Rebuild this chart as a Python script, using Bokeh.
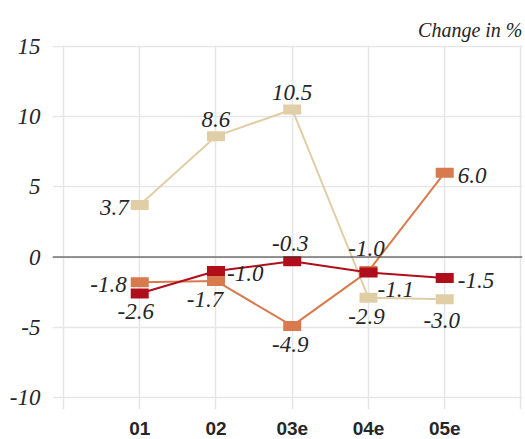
from bokeh.plotting import figure
from bokeh.models import FixedTicker, Span, ColumnDataSource
from bokeh.core.properties import value
from bokeh.embed import file_html
from bokeh.resources import INLINE

# Data
categories = ["01", "02", "03e", "04e", "05e"]
series_beige = [3.7, 8.6, 10.5, -2.9, -3.0]
series_orange = [-1.8, -1.7, -4.9, -1.0, 6.0]
series_red = [-2.6, -1.0, -0.3, -1.1, -1.5]
y_ticks = [-10, -5, 0, 5, 10, 15]
unit_label = "Change in %"

# Styles
BEIGE = "#E0CEA6"
ORANGE = "#D77B4F"
RED = "#B00E1A"
TEXT = "#262626"
SERIF = "Liberation Serif"
SANS = "Liberation Sans"

# Label placement per point: (x offset, baseline offset, alignment)
place_beige = [(-11, 7, "right"), (0, -12, "center"), (0, -12, "center"),
               (-2, 24, "center"), (-3, 26, "center")]
place_orange = [(-13, 7, "right"), (-11, 24, "center"), (-2, 24, "center"),
                (-2, -18, "center"), (13, 8, "left")]
place_red = [(-4, 23, "center"), (11, 7, "left"), (-2, -13, "center"),
             (9, 22, "left"), (13, 7, "left")]
BASELINE_SHIFT = -5

xs = list(range(1, len(categories) + 1))

p = figure(width=525, height=439, output_backend="svg", toolbar_location=None,
           x_range=(-0.144, 6.02), y_range=(-10.85, 15.05),
           min_border_left=52, min_border_right=3, min_border_top=45,
           min_border_bottom=30)
p.outline_line_color = None
p.background_fill_color = "white"

# Unit caption, right aligned above the plot
p.title.text = unit_label
p.title.align = "right"
p.title.text_font = SERIF
p.title.text_font_style = "italic"
p.title.text_font_size = "20px"
p.title.text_color = TEXT

# Grid
p.xgrid.ticker = FixedTicker(ticks=list(range(0, len(categories) + 2)))
p.ygrid.ticker = FixedTicker(ticks=y_ticks)
for g in (p.xgrid, p.ygrid):
    g.grid_line_color = "#E6E6E6"
    g.grid_line_width = 1.6

# Axes
p.xaxis.ticker = FixedTicker(ticks=xs)
p.xaxis.major_label_overrides = {x: c for x, c in zip(xs, categories)}
p.yaxis.ticker = FixedTicker(ticks=y_ticks)
p.yaxis.major_label_overrides = {t: str(t) for t in y_ticks}
for ax in (p.xaxis, p.yaxis):
    ax.axis_line_color = None
    ax.major_tick_line_color = None
    ax.minor_tick_line_color = None
    ax.major_tick_out = 0
    ax.major_tick_in = 0
    ax.minor_tick_out = 0
    ax.minor_tick_in = 0
    ax.major_label_text_color = TEXT
p.xaxis.major_label_text_font = SANS
p.xaxis.major_label_text_font_style = "bold"
p.xaxis.major_label_text_font_size = "19px"
p.xaxis.major_label_standoff = 12
p.yaxis.major_label_text_font = SERIF
p.yaxis.major_label_text_font_style = "italic"
p.yaxis.major_label_text_font_size = "23px"
p.yaxis.major_label_standoff = 12

# Zero line
p.add_layout(Span(location=0, dimension="width", line_color="#333333",
                  line_width=1.2))


def draw_series(values, color, placement):
    src = ColumnDataSource(dict(
        x=xs, y=values,
        label=[f"{v:.1f}" for v in values],
        dx=[pl[0] for pl in placement],
        dy=[pl[1] + BASELINE_SHIFT for pl in placement],
        align=[pl[2] for pl in placement],
    ))
    p.line("x", "y", source=src, line_color=color, line_width=2)
    p.rect("x", "y", width=18, height=10, width_units="screen",
           height_units="screen", source=src, fill_color=color,
           line_color=None)
    return src


sources = [
    draw_series(series_beige, BEIGE, place_beige),
    draw_series(series_orange, ORANGE, place_orange),
    draw_series(series_red, RED, place_red),
]

for src in sources:
    p.text("x", "y", text="label", x_offset="dx", y_offset="dy",
           text_align="align", text_baseline="alphabetic", source=src,
           text_font=value(SERIF), text_font_style="italic",
           text_font_size="23px", text_color=TEXT)

open("out.html", "w").write(file_html(p, INLINE))
